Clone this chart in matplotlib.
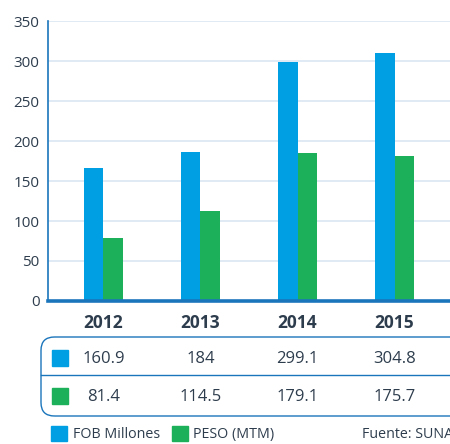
import matplotlib.pyplot as plt
from matplotlib.patches import FancyBboxPatch, Rectangle
from matplotlib.transforms import blended_transform_factory
import numpy as np

plt.rcParams['font.family'] = ['Open Sans', 'DejaVu Sans']

# data
years = ["2012", "2013", "2014", "2015"]
fob_labels = ["160.9", "184", "299.1", "304.8"]
peso_labels = ["81.4", "114.5", "179.1", "175.7"]
# bar heights as drawn in the picture
fob_bars = [166, 186, 299, 310]
peso_bars = [79, 112, 185, 181]
y_ticks = [0, 50, 100, 150, 200, 250, 300, 350]

BLUE = "#009FE3"
GREEN = "#1DB05A"
LINE = "#1A75BB"
TEXT = "#2E3D4D"
GRID = "#DCE8F4"

W, H = 450, 444
fig = plt.figure(figsize=(W / 100, H / 100), dpi=100)


def fx(px):
    return px / W


def fy(py):
    return 1 - py / H


ax = fig.add_axes([fx(48), fy(301), 1 - fx(48), fy(21) - fy(301)])
x = np.arange(len(years))
bw = 0.206
ax.bar(x - bw / 2, fob_bars, width=bw, color=BLUE, zorder=3)
ax.bar(x + bw / 2, peso_bars, width=bw, color=GREEN, zorder=3)

ax.set_xlim(-0.572, 3.572)
ax.set_ylim(0, 350)
ax.set_yticks(y_ticks)
ax.set_yticklabels([str(v) for v in y_ticks], fontsize=11, color=TEXT)
ax.set_xticks(x)
ax.set_xticklabels(years, fontsize=12.5, fontweight="bold", color=TEXT)
ax.tick_params(axis="y", length=0, pad=6)
ax.tick_params(axis="x", length=0, pad=9)
ax.grid(axis="y", color=GRID, linewidth=1.3, zorder=0)
for s in ["top", "right"]:
    ax.spines[s].set_visible(False)
ax.spines["left"].set_color(LINE)
ax.spines["left"].set_linewidth(1.2)
ax.spines["bottom"].set_color(LINE)
ax.spines["bottom"].set_linewidth(2.6)
ax.spines["bottom"].set_zorder(4)

# table box
box = FancyBboxPatch((fx(41), fy(416)), fx(480) - fx(41), fy(337) - fy(416),
                     boxstyle="round,pad=0,rounding_size=0.03",
                     transform=fig.transFigure, fill=False,
                     edgecolor=LINE, linewidth=1.0, mutation_aspect=1)
fig.patches.append(box)
fig.add_artist(plt.Line2D([fx(41), 1], [fy(375), fy(375)],
                          transform=fig.transFigure, color=LINE, linewidth=1.0))

fig.patches.append(Rectangle((fx(52), fy(366)), fx(16), 16 / H,
                             transform=fig.transFigure, color=BLUE))
fig.patches.append(Rectangle((fx(52), fy(404)), fx(16), 16 / H,
                             transform=fig.transFigure, color=GREEN))

tr = blended_transform_factory(ax.transData, fig.transFigure)
for i in range(len(years)):
    ax.text(x[i], fy(359), fob_labels[i], transform=tr, ha="center", va="center",
            fontsize=12, color=TEXT, clip_on=False)
    ax.text(x[i], fy(397), peso_labels[i], transform=tr, ha="center", va="center",
            fontsize=12, color=TEXT, clip_on=False)

# legend
fig.patches.append(Rectangle((fx(51), fy(441)), fx(16), 15 / H,
                             transform=fig.transFigure, color=BLUE))
fig.text(fx(73), fy(434), "FOB Millones", fontsize=10.3, color=TEXT, va="center")
fig.patches.append(Rectangle((fx(172), fy(441)), fx(16), 15 / H,
                             transform=fig.transFigure, color=GREEN))
fig.text(fx(193), fy(434), "PESO (MTM)", fontsize=10.3, color=TEXT, va="center")
fig.text(fx(362), fy(434), "Fuente: SUNAT", fontsize=10.3, color=TEXT, va="center")

fig.savefig("out.png", dpi=100)
